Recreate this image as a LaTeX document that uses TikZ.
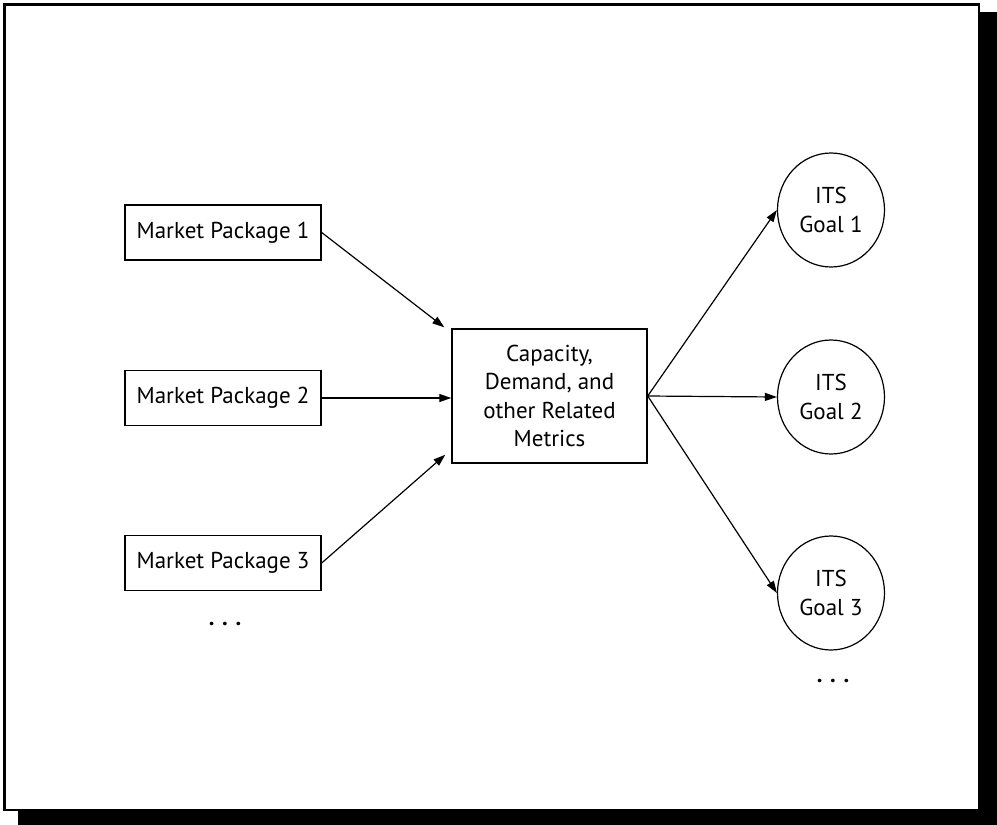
\documentclass[tikz,border=0pt]{standalone}
\usepackage{fontspec}
\setmainfont{PT Sans}
\usetikzlibrary{arrows.meta,shapes.geometric,calc}
\begin{document}
\begin{tikzpicture}[x=1pt,y=-1pt,
  font=\fontsize{23}{28.5}\selectfont,
  pkg/.style={draw,line width=1.4pt,minimum width=196pt,minimum height=55pt,inner sep=0pt},
  hub/.style={draw,line width=1.4pt,minimum width=195pt,minimum height=134pt,align=center,inner sep=0pt},
  goal/.style={draw,ellipse,line width=1.2pt,minimum width=107pt,minimum height=114pt,align=center,inner sep=0pt},
  link/.style={line width=1.2pt,-{Triangle[length=12pt,width=8pt]}},
  more/.style={inner sep=0pt,font=\bfseries\fontsize{23}{28.5}\selectfont}]
\useasboundingbox (0,0) rectangle (997,825);

% framed panel with drop shadow
\fill[black] (18,12) rectangle (997,825);
\draw[fill=white,line width=2.5pt] (4.5,4.5) rectangle (979,810);

% inputs
\node[pkg] (p1) at (223,232.5) {Market Package 1};
\node[pkg] (p2) at (223,398) {Market Package 2};
\node[pkg] (p3) at (223,563) {Market Package 3};
\node[more] (pd) at (225,624) {. . .};

% metrics
\node[hub] (hub) at (549.5,396) {Capacity,\\Demand, and\\other Related\\Metrics};

% goals
\node[goal] (g1) at (831,210) {ITS\\Goal 1};
\node[goal] (g2) at (831,397) {ITS\\Goal 2};
\node[goal] (g3) at (831,593) {ITS\\Goal 3};
\node[more] (gd) at (833,681) {. . .};

% connectors
\coordinate (in1) at ($(hub.north west)+(-7,-1)$);
\coordinate (in3) at ($(hub.south west)+(-6,-9)$);
\draw[link] (p1.east) -- (in1);
\draw[link] (p2.east) -- (p2.east -| hub.west);
\draw[link] (p3.east) -- (in3);

\draw[link] (hub.east) -- (g1.west);
\draw[link] (hub.east) -- (g2.west);
\draw[link] (hub.east) -- (g3.west);
\end{tikzpicture}
\end{document}
